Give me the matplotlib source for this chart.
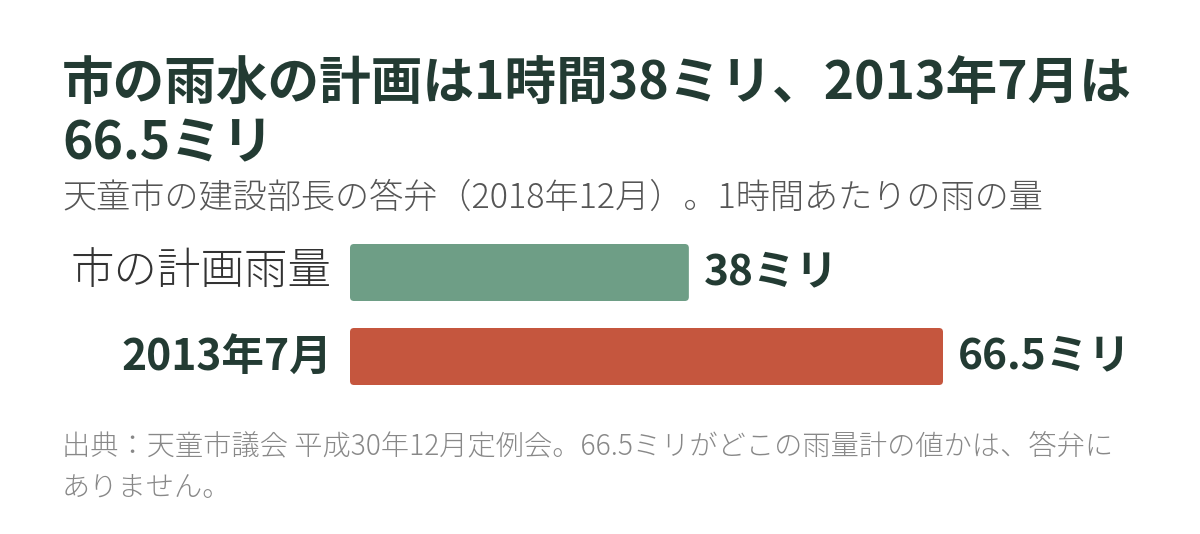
import matplotlib
matplotlib.use("Agg")
import matplotlib.pyplot as plt
from matplotlib.patches import FancyBboxPatch
from matplotlib.transforms import offset_copy

plt.rcParams['font.family'] = ['Noto Sans CJK JP', 'DejaVu Sans']

# data
categories = ["市の計画雨量", "2013年7月"]
values = [38, 66.5]
value_labels = ["38ミリ", "66.5ミリ"]
colors = ["#6e9e86", "#c5563e"]
label_weights = ["light", "bold"]

title_lines = ["市の雨水の計画は1時間38ミリ、2013年7月は", "66.5ミリ"]
subtitle = "天童市の建設部長の答弁（2018年12月）。1時間あたりの雨の量"
footer_lines = ["出典：天童市議会 平成30年12月定例会。66.5ミリがどこの雨量計の値かは、答弁に",
                "ありません。"]

W, H = 1200, 534
fig = plt.figure(figsize=(W / 100, H / 100), dpi=100)
fig.patch.set_facecolor("white")

dark = "#233b33"

def fy(px):
    # pixel row from top -> figure fraction
    return 1 - px / H

fig.text(62 / W, fy(100), title_lines[0], fontsize=37.2, fontweight="bold",
         color=dark, va="baseline", ha="left")
fig.text(62 / W, fy(159), title_lines[1], fontsize=37.2, fontweight="bold",
         color=dark, va="baseline", ha="left")
fig.text(62 / W, fy(208), subtitle, fontsize=24.6, fontweight="light",
         color="#555555", va="baseline", ha="left")
fig.text(62 / W, fy(454), footer_lines[0], fontsize=20.3, fontweight="light",
         color="#888888", va="baseline", ha="left")
fig.text(62 / W, fy(496), footer_lines[1], fontsize=20.3, fontweight="light",
         color="#888888", va="baseline", ha="left")

# axes: x 0..66.5 maps to px 350..943
ax_left, ax_right = 350, 943
ax_top, ax_bot = 230, 400
ax = fig.add_axes([ax_left / W, fy(ax_bot), (ax_right - ax_left) / W,
                   (ax_bot - ax_top) / H])
ax.set_xlim(0, 66.5)
px_per_y = 84.0
ax.set_ylim(1 + (ax_bot - 356.5) / px_per_y, 0 - (272.5 - ax_top) / px_per_y)
ax.axis("off")

bar_h = 57 / px_per_y
px_per_x = (ax_right - ax_left) / 66.5
bars = ax.barh(range(len(values)), values, height=bar_h, color=colors)
for b, c in zip(bars, colors):
    b.set_visible(False)
    r = 4 / px_per_x
    p = FancyBboxPatch((b.get_x(), b.get_y()), b.get_width(), b.get_height(),
                       boxstyle="round,pad=0,rounding_size=%f" % r,
                       mutation_aspect=px_per_x / px_per_y,
                       facecolor=c, edgecolor="none")
    ax.add_patch(p)

left_tr = offset_copy(ax.transData, fig=fig, x=-18, y=0, units="dots")
right_tr = offset_copy(ax.transData, fig=fig, x=15, y=0, units="dots")
for i, (cat, v, vl, w) in enumerate(zip(categories, values, value_labels, label_weights)):
    ax.text(0, i, cat, transform=left_tr, ha="right", va="center",
            fontsize=31.3 if w == "light" else 30.7, fontweight=w,
            color=dark if w == "bold" else "#333333")
    ax.text(v, i, vl, transform=right_tr, ha="left", va="center",
            fontsize=30.5, fontweight="bold", color=dark)

fig.savefig("out.png", dpi=100, facecolor="white")
